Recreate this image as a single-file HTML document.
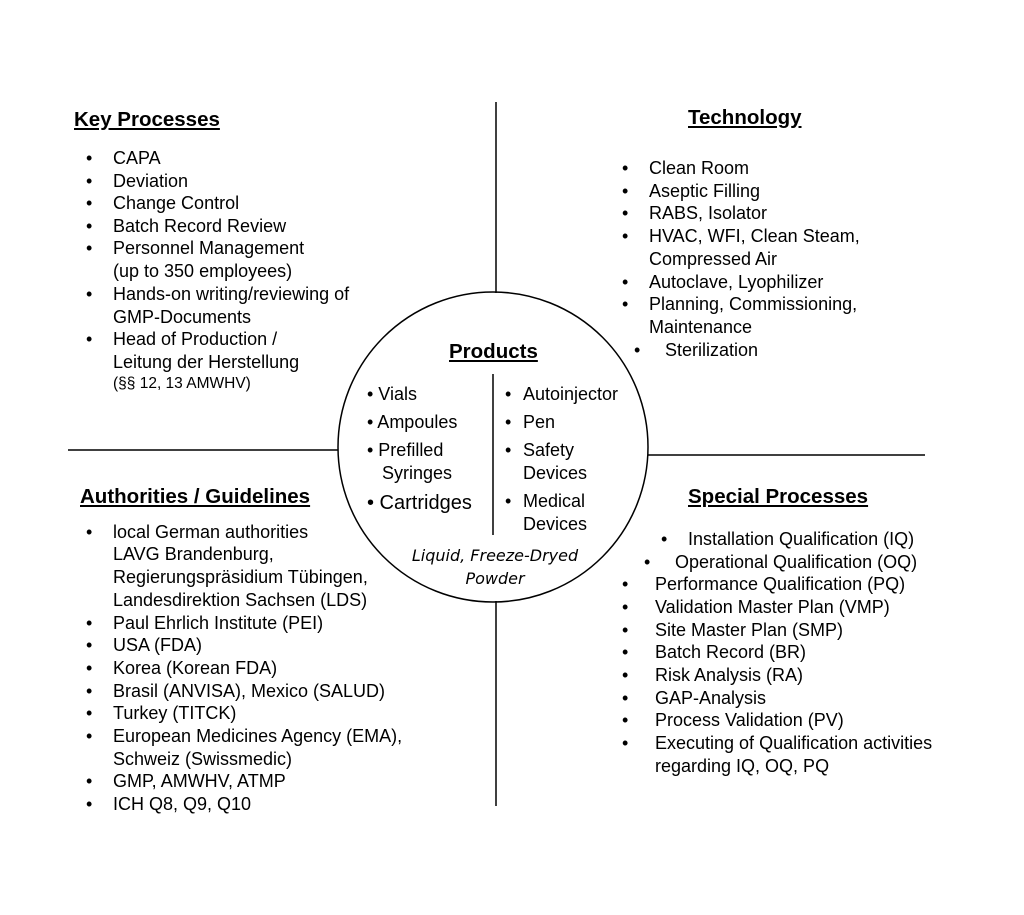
<!DOCTYPE html>
<html><head><meta charset="utf-8"><style>
body{margin:0;background:#fff;}
#c{position:relative;width:1024px;height:915px;overflow:hidden;font-family:"Liberation Sans",Arial,sans-serif;color:#000;font-size:18px;}
#c div{position:absolute;white-space:nowrap;line-height:20px;}
.h{font-weight:bold;text-decoration:underline;font-size:20.5px;}
.b{font-size:18px;}
.i{font-style:italic;font-family:"DejaVu Sans","Liberation Sans",sans-serif;font-size:16px;}
</style></head><body><div id="c">
<svg width="1024" height="915" style="position:absolute;left:0;top:0">
<g stroke="#000" stroke-width="1.5" fill="none">
<line x1="496" y1="102" x2="496" y2="293"/>
<line x1="496" y1="601" x2="496" y2="806"/>
<line x1="68" y1="450" x2="338" y2="450"/>
<line x1="648" y1="455" x2="925" y2="455"/>
<circle cx="493" cy="447" r="155"/>
<line x1="493" y1="374" x2="493" y2="535"/>
</g></svg>

<div class="h" style="left:74px;top:110px">Key Processes</div>
<div style="left:86px;top:148px">•</div><div style="left:113px;top:148px">CAPA</div>
<div style="left:86px;top:171px">•</div><div style="left:113px;top:171px">Deviation</div>
<div style="left:86px;top:193px">•</div><div style="left:113px;top:193px">Change Control</div>
<div style="left:86px;top:216px">•</div><div style="left:113px;top:216px">Batch Record Review</div>
<div style="left:86px;top:238px">•</div><div style="left:113px;top:238px">Personnel Management</div>
<div style="left:113px;top:261px">(up to 350 employees)</div>
<div style="left:86px;top:284px">•</div><div style="left:113px;top:284px">Hands-on writing/reviewing of</div>
<div style="left:113px;top:307px">GMP-Documents</div>
<div style="left:86px;top:329px">•</div><div style="left:113px;top:329px">Head of Production /</div>
<div style="left:113px;top:352px">Leitung der Herstellung</div>
<div style="left:113px;top:374px;font-size:15.5px">(§§ 12, 13 AMWHV)</div>

<div class="h" style="left:688px;top:108px">Technology</div>
<div style="left:622px;top:158px">•</div><div style="left:649px;top:158px">Clean Room</div>
<div style="left:622px;top:181px">•</div><div style="left:649px;top:181px">Aseptic Filling</div>
<div style="left:622px;top:203px">•</div><div style="left:649px;top:203px">RABS, Isolator</div>
<div style="left:622px;top:226px">•</div><div style="left:649px;top:226px">HVAC, WFI, Clean Steam,</div>
<div style="left:649px;top:249px">Compressed Air</div>
<div style="left:622px;top:272px">•</div><div style="left:649px;top:272px">Autoclave, Lyophilizer</div>
<div style="left:622px;top:294px">•</div><div style="left:649px;top:294px">Planning, Commissioning,</div>
<div style="left:649px;top:317px">Maintenance</div>
<div style="left:634px;top:340px">•</div><div style="left:665px;top:340px">Sterilization</div>

<div class="h" style="left:449px;top:342px">Products</div>
<div class="b" style="left:367px;top:384px">• Vials</div>
<div class="b" style="left:367px;top:412px">• Ampoules</div>
<div class="b" style="left:367px;top:440px">• Prefilled</div>
<div class="b" style="left:382px;top:463px">Syringes</div>
<div style="left:367px;top:493px;font-size:20px">• Cartridges</div>
<div class="b" style="left:505px;top:384px">•</div><div class="b" style="left:523px;top:384px">Autoinjector</div>
<div class="b" style="left:505px;top:412px">•</div><div class="b" style="left:523px;top:412px">Pen</div>
<div class="b" style="left:505px;top:440px">•</div><div class="b" style="left:523px;top:440px">Safety</div>
<div class="b" style="left:523px;top:463px">Devices</div>
<div class="b" style="left:505px;top:491px">•</div><div class="b" style="left:523px;top:491px">Medical</div>
<div class="b" style="left:523px;top:514px">Devices</div>
<div class="i" style="left:405px;top:546px;width:180px;text-align:center">Liquid, Freeze-Dryed</div>
<div class="i" style="left:405px;top:569px;width:180px;text-align:center">Powder</div>

<div class="h" style="left:80px;top:487px">Authorities / Guidelines</div>
<div style="left:86px;top:522px">•</div><div style="left:113px;top:522px">local German authorities</div>
<div style="left:113px;top:544px">LAVG Brandenburg,</div>
<div style="left:113px;top:567px">Regierungspräsidium Tübingen,</div>
<div style="left:113px;top:590px">Landesdirektion Sachsen (LDS)</div>
<div style="left:86px;top:613px">•</div><div style="left:113px;top:613px">Paul Ehrlich Institute (PEI)</div>
<div style="left:86px;top:635px">•</div><div style="left:113px;top:635px">USA (FDA)</div>
<div style="left:86px;top:658px">•</div><div style="left:113px;top:658px">Korea (Korean FDA)</div>
<div style="left:86px;top:681px">•</div><div style="left:113px;top:681px">Brasil (ANVISA), Mexico (SALUD)</div>
<div style="left:86px;top:703px">•</div><div style="left:113px;top:703px">Turkey (TITCK)</div>
<div style="left:86px;top:726px">•</div><div style="left:113px;top:726px">European Medicines Agency (EMA),</div>
<div style="left:113px;top:749px">Schweiz (Swissmedic)</div>
<div style="left:86px;top:771px">•</div><div style="left:113px;top:771px">GMP, AMWHV, ATMP</div>
<div style="left:86px;top:794px">•</div><div style="left:113px;top:794px">ICH Q8, Q9, Q10</div>

<div class="h" style="left:688px;top:487px">Special Processes</div>
<div style="left:661px;top:529px">•</div><div style="left:688px;top:529px">Installation Qualification (IQ)</div>
<div style="left:644px;top:552px">•</div><div style="left:675px;top:552px">Operational Qualification (OQ)</div>
<div style="left:622px;top:574px">•</div><div style="left:655px;top:574px">Performance Qualification (PQ)</div>
<div style="left:622px;top:597px">•</div><div style="left:655px;top:597px">Validation Master Plan (VMP)</div>
<div style="left:622px;top:620px">•</div><div style="left:655px;top:620px">Site Master Plan (SMP)</div>
<div style="left:622px;top:642px">•</div><div style="left:655px;top:642px">Batch Record (BR)</div>
<div style="left:622px;top:665px">•</div><div style="left:655px;top:665px">Risk Analysis (RA)</div>
<div style="left:622px;top:688px">•</div><div style="left:655px;top:688px">GAP-Analysis</div>
<div style="left:622px;top:710px">•</div><div style="left:655px;top:710px">Process Validation (PV)</div>
<div style="left:622px;top:733px">•</div><div style="left:655px;top:733px">Executing of Qualification activities</div>
<div style="left:655px;top:756px">regarding IQ, OQ, PQ</div>
</div></body></html>
